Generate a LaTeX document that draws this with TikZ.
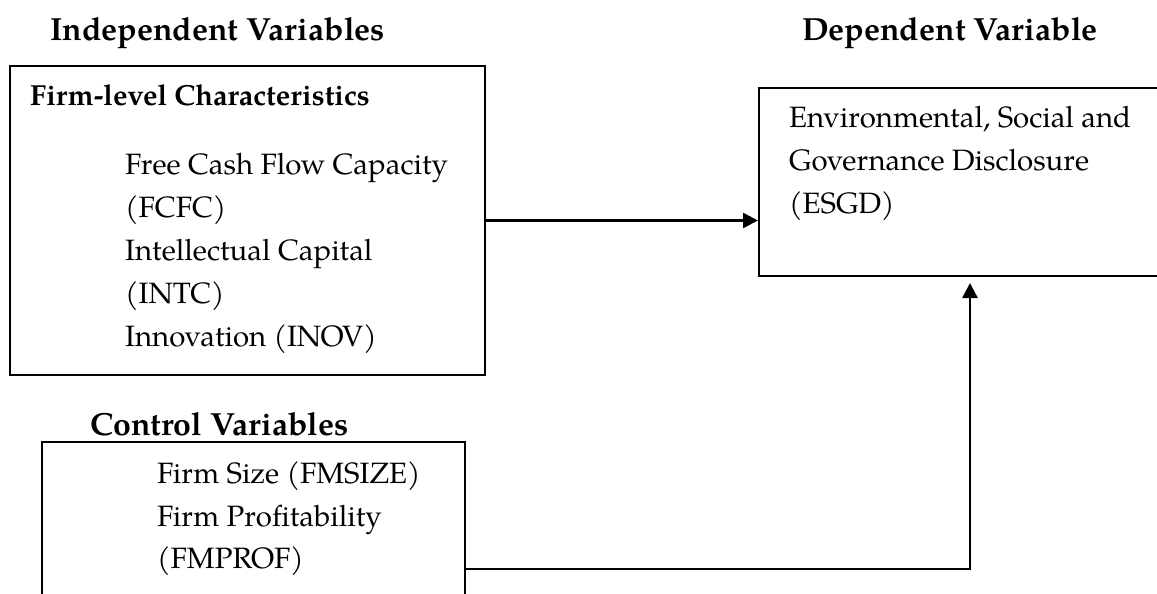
\documentclass[tikz,border=0pt]{standalone}
\usepackage{fontspec}
\setmainfont{TeX Gyre Pagella}
\usetikzlibrary{arrows.meta}
\begin{document}
\begin{tikzpicture}[x=1pt,y=-1pt,
  box/.style={draw, line width=2pt, inner sep=0pt},
  txt/.style={anchor=base west, inner sep=0pt, font=\fontsize{29.4}{33}\selectfont},
  ttl/.style={txt, font=\fontsize{32}{36}\selectfont\bfseries},
  sub/.style={txt, font=\fontsize{29}{33}\selectfont\bfseries},
  arr/.style={line width=2.6pt, -{Triangle[length=15pt,width=15pt]}}]
\useasboundingbox (0,0) rectangle (1157,594);
\clip (0,0) rectangle (1157,594);
% boxes
\node[box, minimum width=475pt, minimum height=309pt] (ind) at (247.5,220.5) {};
\node[box, minimum width=423pt, minimum height=254pt] (ctl) at (253.5,569) {};
\node[box, minimum width=422pt, minimum height=188pt] (dep) at (970,182) {};
% titles
\node[ttl] (tind) at (50,41) {Independent Variables};
\node[ttl] (tdep) at (802,41) {Dependent Variable};
\node[ttl] (tctl) at (90,435) {Control Variables};
% box 1 text
\node[sub] (firm) at (30,105) {Firm-level Characteristics};
\node[txt] (i1) at (125,174) {Free Cash Flow Capacity};
\node[txt] (i2) at (125,217) {(FCFC)};
\node[txt] (i3) at (125,260) {Intellectual Capital};
\node[txt] (i4) at (125,303) {(INTC)};
\node[txt] (i5) at (125,346) {Innovation (INOV)};
% box 2 text
\node[txt] (c1) at (157,483) {Firm Size (FMSIZE)};
\node[txt] (c2) at (157,526) {Firm Profitability};
\node[txt] (c3) at (157,568) {(FMPROF)};
% box 3 text
\node[txt] (d1) at (789,128) {Environmental, Social and};
\node[txt] (d2) at (789,170) {Governance Disclosure};
\node[txt] (d3) at (789,213) {(ESGD)};
% connectors
\draw[arr] (ind.east) -- (ind.east -| dep.west);
\draw[arr] (ctl.east) -| ([yshift=-6pt]dep.south);
\end{tikzpicture}
\end{document}
